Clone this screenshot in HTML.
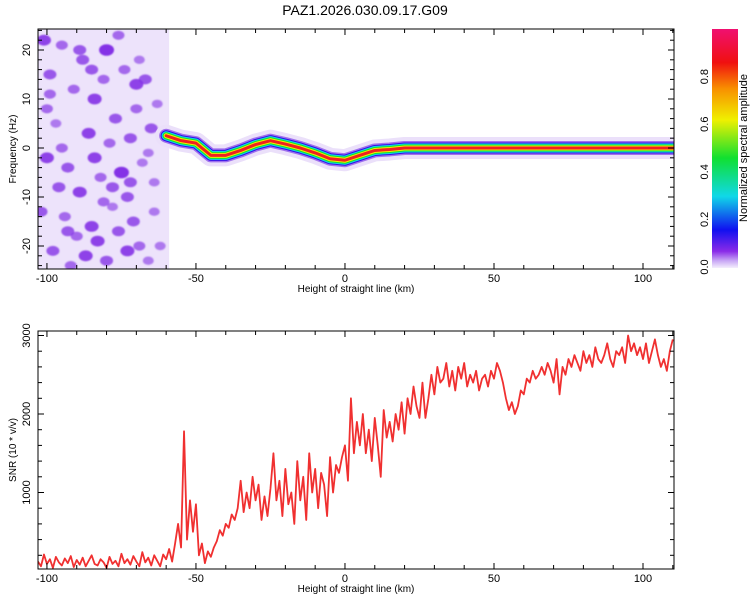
<!DOCTYPE html>
<html><head><meta charset="utf-8"><style>
body{margin:0;background:#fff;}
svg{display:block;font-family:"Liberation Sans",sans-serif;}
</style></head><body>
<svg id="chart" width="750" height="600">
<defs>
<linearGradient id="cbg" x1="0" y1="1" x2="0" y2="0">
<stop offset="0" stop-color="#f4eefc"/><stop offset="0.03" stop-color="#c9a8f5"/>
<stop offset="0.07" stop-color="#8a2be8"/><stop offset="0.16" stop-color="#1010f0"/>
<stop offset="0.3" stop-color="#10d8e8"/><stop offset="0.46" stop-color="#10e030"/>
<stop offset="0.62" stop-color="#f0f000"/><stop offset="0.75" stop-color="#f89000"/>
<stop offset="0.86" stop-color="#f01010"/><stop offset="1" stop-color="#f01070"/>
</linearGradient>
<clipPath id="c1"><rect x="38" y="29" width="636" height="240"/></clipPath>
<clipPath id="c2"><rect x="38" y="331" width="636" height="238"/></clipPath>
<filter id="blur"><feGaussianBlur stdDeviation="0.8"/></filter>
</defs>
<text x="365" y="15" font-size="14" text-anchor="middle">PAZ1.2026.030.09.17.G09</text>
<g id="topPanel"></g>
<g id="botPanel"></g>
<rect x="712" y="29" width="26" height="239" fill="url(#cbg)"/>
<text transform="translate(747,148) rotate(-90)" font-size="11" text-anchor="middle">Normalized spectral amplitude</text>
</svg>
<script>
const snrStart = -103;
const snrValues = [
120,60,210,90,150,40,180,110,70,160,
100,190,50,140,80,170,60,130,200,90,
70,150,110,40,180,90,130,60,220,100,
150,80,190,120,60,240,110,170,70,200,
130,60,210,150,280,120,350,600,300,1780,
400,900,500,850,200,350,100,250,180,300,
380,520,450,600,550,720,650,800,1150,750,
1000,800,1200,900,1100,650,950,700,1050,1500,
900,1150,700,1300,850,1000,600,1400,900,1200,
650,1500,1000,1300,800,1250,1100,700,1450,1000,
1350,1250,1450,1600,1150,2200,1500,1900,1600,2000,
1500,1800,1400,1950,1600,1200,2050,1700,1900,1650,
2000,1800,2150,1750,2200,2000,2350,2100,1950,2400,
1950,2200,2500,2250,2600,2400,2450,2650,2350,2550,
2300,2600,2450,2650,2350,2500,2400,2550,2300,2450,
2500,2350,2550,2450,2650,2550,2400,2200,2050,2150,
2000,2100,2300,2250,2450,2400,2550,2450,2500,2600,
2500,2650,2550,2400,2700,2250,2600,2500,2700,2600,
2750,2650,2550,2800,2650,2750,2600,2850,2700,2650,
2750,2900,2700,2600,2800,2750,2850,2650,3000,2800,
2900,2750,2850,2700,2900,2650,2800,2950,2750,2600,
2700,2550,2800,2950];
const ridgeKm = [-60,-55,-50,-45,-40,-35,-30,-25,-20,-15,-10,-5,0,5,10,15,20,25,40,60,80,100,111];
const ridgeHz = [2.5,1.5,1,-1.5,-1.5,-0.5,0.7,1.5,0.8,0,-1,-2.2,-2.5,-1.5,-0.5,-0.3,0,0,0,0,0,0,0];
const noiseKm = [-101,-95,-88,-80,-74,-67,-63,-99,-91,-84,-77,-70,-65,-97,-86,-79,-72,-66,-100,-93,-82,-75,-68,-96,-89,-81,-73,-64,-102,-94,-85,-78,-71,-90,-83,-76,-69,-98,-87,-62,-92,-80,-73,-66,-100,-85,-70,-95,-78,-64,-89,-76,-93,-69,-84,-99,-72,-81];
const noiseHz = [22,21,18,20,16,14,9,15,12,10,6,8,4,5,3,1,2,-1,-2,-4,-6,-5,-3,-8,-9,-11,-10,-7,-13,-14,-16,-12,-15,-18,-19,-17,-20,-21,-22,-20,-24,-23,-21,-23,8,16,13,0,-8,-13,20,23,-17,18,-2,11,-7,14];
const noiseAmp = [0.6,0.4,0.5,0.7,0.4,0.5,0.3,0.5,0.4,0.6,0.5,0.4,0.5,0.3,0.6,0.4,0.5,0.3,0.6,0.5,0.4,0.7,0.3,0.5,0.6,0.4,0.5,0.3,0.5,0.4,0.6,0.3,0.5,0.4,0.6,0.5,0.4,0.5,0.6,0.3,0.4,0.5,0.6,0.3,0.4,0.5,0.6,0.4,0.5,0.3,0.5,0.4,0.5,0.3,0.6,0.4,0.5,0.4];
const xTicks = [-100,-50,0,50,100];
const freqTicks = [-20,-10,0,10,20];
const snrTicks = [1000,2000,3000];
const cbTicks = [0.0,0.2,0.4,0.6,0.8];

const NS="http://www.w3.org/2000/svg";
function mk(p,t,a){const e=document.createElementNS(NS,t);for(const k in a)e.setAttribute(k,a[k]);p.appendChild(e);return e;}
const X0=38,X1=674,KM0=-103,KM1=110.4;
const xs=k=>X0+(k-KM0)*(X1-X0)/(KM1-KM0);
const ys1=f=>148-f*4.9;
const ys2=v=>571-v*0.0785;
const topG=document.getElementById('topPanel'), botG=document.getElementById('botPanel');

const ng=mk(topG,'g',{'clip-path':'url(#c1)'});


mk(ng,'rect',{x:xs(-103),y:29,width:xs(-59)-xs(-103),height:240,fill:'#ede3fb'});
const bg=mk(ng,'g',{filter:'url(#blur)'});
noiseKm.forEach((k,i)=>{
  const c=mk(bg,'ellipse',{cx:xs(k),cy:ys1(noiseHz[i]),rx:4+noiseAmp[i]*5,ry:3+noiseAmp[i]*4,fill:'#8432e6','fill-opacity':noiseAmp[i]+0.3});
  
  
});
const rg=mk(topG,'g',{'clip-path':'url(#c1)'});


const pts=ridgeKm.map((k,i)=>xs(k)+','+ys1(ridgeHz[i])).join(' ');
[[22,'#ebe0fa',1],[14,'#a070ee',1],[11,'#3010e8',1],[9,'#10d8e8',1],[7,'#10e030',1],[5,'#f0f000',1],[3,'#f02020',1]].forEach(s=>{
  const l=mk(rg,'polyline',{points:pts,fill:'none',stroke:s[1],'stroke-width':s[0],'stroke-linejoin':'round','stroke-linecap':'round','stroke-opacity':s[2]});
  
  
});
const sp=snrValues.map((v,i)=>xs(snrStart+i)+','+ys2(v)).join(' ');
const sl=mk(botG,'polyline',{points:sp,fill:'none',stroke:'#f03030','stroke-width':1.8,'stroke-linejoin':'round','clip-path':'url(#c2)'});



function frame(g,y0,y1,yt,ysf,minorY,lab,name){
  const r=mk(g,'rect',{x:X0,y:y0,width:X1-X0,height:y1-y0,fill:'none',stroke:'#000','stroke-width':1});
  
  
  for(let k=-100;k<=110;k+=10){const x=xs(k),L=(k%50===0)?6:4;
    mk(g,'line',{x1:x,x2:x,y1:y1,y2:y1-L,stroke:'#000'});mk(g,'line',{x1:x,x2:x,y1:y0,y2:y0+L,stroke:'#000'});}
  xTicks.forEach(k=>{const t=mk(g,'text',{x:xs(k),y:y1+13,'font-size':11,'text-anchor':'middle'});t.textContent=k;
    });
  const xt=mk(g,'text',{x:356,y:y1+23,'font-size':10,'text-anchor':'middle'});xt.textContent='Height of straight line (km)';
  
  minorY.forEach(v=>{const y=ysf(v);if(y<y0||y>y1)return;const L=yt.includes(v)?6:4;
    mk(g,'line',{x1:X0,x2:X0+L,y1:y,y2:y,stroke:'#000'});mk(g,'line',{x1:X1,x2:X1-L,y1:y,y2:y,stroke:'#000'});});
  yt.forEach(v=>{const t=mk(g,'text',{transform:`translate(30,${ysf(v)}) rotate(-90)`,'font-size':11,'text-anchor':'middle'});t.textContent=v;
    });
  const yl=mk(g,'text',{transform:`translate(16,${(y0+y1)/2}) rotate(-90)`,'font-size':10,'text-anchor':'middle'});yl.textContent=lab;
  
}
const m1=[];for(let f=-24;f<=24;f+=2)m1.push(f);
const m2=[];for(let v=200;v<=3000;v+=200)m2.push(v);
frame(topG,29,269,freqTicks,ys1,m1,'Frequency (Hz)','spectrogram');
frame(botG,331,569,snrTicks,ys2,m2,'SNR (10 * v/v)','snr');
const svg=document.getElementById('chart');
cbTicks.forEach(v=>{const y=267-v*238;
  const t=mk(svg,'text',{transform:`translate(708,${y}) rotate(-90)`,'font-size':11,'text-anchor':'middle'});t.textContent=v.toFixed(1);
  });
</script>
</body></html>
